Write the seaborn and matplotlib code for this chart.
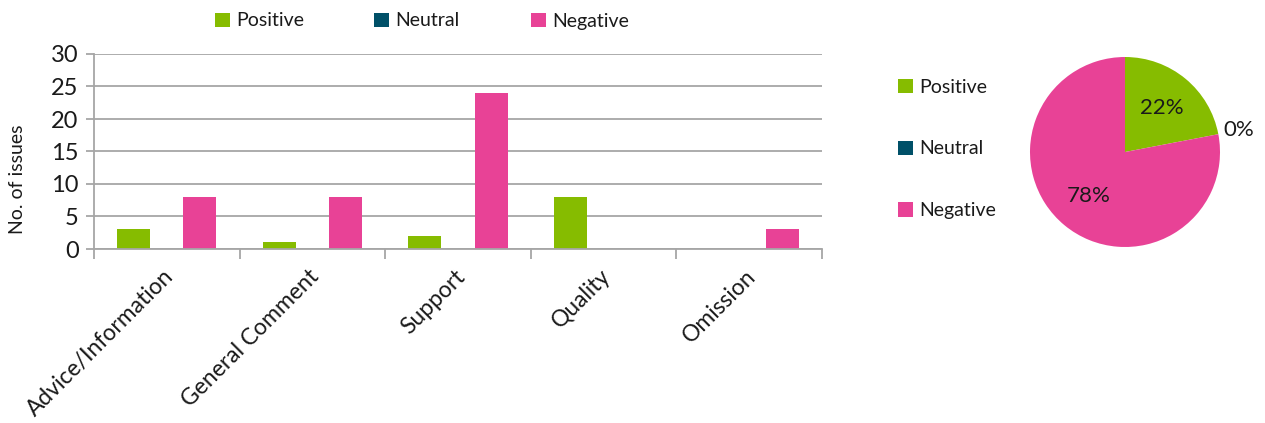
import numpy as np
import pandas as pd
import matplotlib
matplotlib.use("Agg")
import matplotlib.pyplot as plt
import matplotlib.transforms as mtransforms
from matplotlib.patches import Patch
import seaborn as sns

# Issue counts per category and sentiment
categories = ["Advice/Information", "General Comment", "Support", "Quality", "Omission"]
sentiments = ["Positive", "Neutral", "Negative"]
positive = [3, 1, 2, 8, 0]
neutral = [0, 0, 0, 0, 0]
negative = [8, 8, 24, 0, 3]

# Overall sentiment share (%)
pie_values = [22, 0, 78]

colors = {"Positive": "#86BC00", "Neutral": "#005068", "Negative": "#E84296"}
grid_col = "#A6A6A6"
text_col = "#1A1A1A"

sns.set_theme(style="white")
plt.rcParams["font.family"] = ["Lato", "DejaVu Sans"]

df = pd.DataFrame({
    "Category": categories * 3,
    "Sentiment": ["Positive"] * 5 + ["Neutral"] * 5 + ["Negative"] * 5,
    "Count": positive + neutral + negative,
})

W, H = 1265, 423
fig = plt.figure(figsize=(W / 100, H / 100), dpi=100)
ax = fig.add_axes([94 / W, 1 - 249 / H, (822 - 94) / W, (249 - 54) / H])

sns.barplot(data=df, x="Category", y="Count", hue="Sentiment", hue_order=sentiments,
            palette=colors, width=0.68, gap=0, saturation=1, ax=ax, legend=False,
            linewidth=0)

ax.set_xlim(-0.5, 4.5)
ax.set_ylim(0, 30)
ax.set_yticks(np.arange(0, 31, 5))
ax.yaxis.grid(True, color=grid_col, linewidth=1.3)
ax.set_axisbelow(True)
for side in ("top", "right"):
    ax.spines[side].set_visible(False)
for side in ("left", "bottom"):
    ax.spines[side].set_color(grid_col)
    ax.spines[side].set_linewidth(1.3)

ax.tick_params(axis="y", which="major", length=6, width=1.3, color=grid_col,
               labelsize=17, labelcolor=text_col, pad=5, left=True)
ax.set_xticks(np.arange(5))
ax.set_xticklabels(categories, rotation=45, ha="right", rotation_mode="anchor")
ax.set_xticks(np.arange(-0.5, 5, 1), minor=True)
ax.tick_params(axis="x", which="major", length=0, labelsize=16.5, labelcolor=text_col, pad=12)
ax.tick_params(axis="x", which="minor", length=7, width=1.3, color=grid_col, bottom=True)
shift = mtransforms.ScaledTranslation(-4 / 100, 0, fig.dpi_scale_trans)
for lab in ax.get_xticklabels():
    lab.set_transform(lab.get_transform() + shift)
ax.set_xlabel("")
ax.set_ylabel("No. of issues", fontsize=14, color=text_col)
ax.yaxis.set_label_coords(-68 / (822 - 94), (249 - 179) / (249 - 54))

# Header legend, entries spaced evenly
for s, xm in zip(sentiments, [215, 374, 531]):
    fig.legend(handles=[Patch(facecolor=colors[s], edgecolor="none", label=s)],
               loc="center left", bbox_to_anchor=(xm / W, 1 - 21 / H), borderpad=0,
               borderaxespad=0, frameon=False, fontsize=14, handlelength=0.75,
               handleheight=0.75, handletextpad=0.35, labelcolor=text_col)

# Pie of overall sentiment share
r_px = 95
pax = fig.add_axes([(1125 - r_px) / W, 1 - (152 + r_px) / H, 2 * r_px / W, 2 * r_px / H])
wedges, texts, autotexts = pax.pie(
    pie_values, colors=[colors[s] for s in sentiments], startangle=90, counterclock=False,
    autopct=lambda p: f"{p:.0f}%", pctdistance=0.6,
    wedgeprops=dict(linewidth=0), textprops=dict(fontsize=16, color=text_col))
pax.set_xlim(-1, 1)
pax.set_ylim(-1, 1)
pax.set_aspect("equal")
for w, t, v in zip(wedges, autotexts, pie_values):
    if v == 0:
        ang = np.deg2rad(w.theta1)
        t.set_position((1.22 * np.cos(ang), 1.22 * np.sin(ang)))

handles = [Patch(facecolor=colors[s], edgecolor="none", label=s) for s in sentiments]
fig.legend(handles=handles, loc="center left", bbox_to_anchor=(898 / W, 1 - 149 / H),
           borderpad=0, borderaxespad=0, ncol=1, frameon=False, fontsize=14,
           handlelength=0.75, handleheight=0.75, handletextpad=0.35, labelspacing=2.3,
           labelcolor=text_col)

fig.savefig("out.png", dpi=100, facecolor="white")
